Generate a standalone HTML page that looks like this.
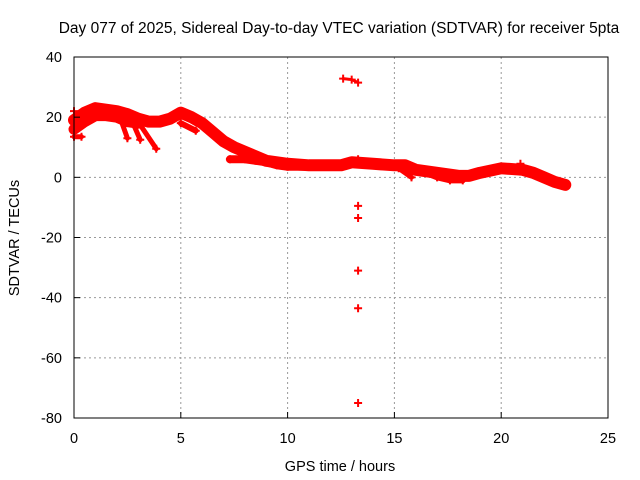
<!DOCTYPE html>
<html><head><meta charset="utf-8"><style>
body{margin:0;background:#fff}
svg{display:block;font-family:"Liberation Sans",sans-serif}
</style></head><body>
<svg id="c" width="640" height="480">
<text x="339" y="33" font-size="15.5" text-anchor="middle">Day 077 of 2025, Sidereal Day-to-day VTEC variation (SDTVAR) for receiver 5pta</text>
<text x="340" y="471" font-size="14.5" text-anchor="middle">GPS time / hours</text>
<text transform="translate(19,238) rotate(-90)" font-size="14.5" text-anchor="middle">SDTVAR / TECUs</text>
<g id="grid"></g><g id="marks"></g>
<rect x="74" y="57" width="534" height="361" fill="none" stroke="#000" stroke-width="1"/>
<g id="ticks"></g>
</svg>
<script>
const xTicks=[0,5,10,15,20,25];
const yTicks=[40,20,0,-20,-40,-60,-80];
// bands: arrays of [hour, TECU]
const mainBand=[[0,19],[0.5,21.5],[1,23],[1.5,22.5],[2,22],[2.5,21],[3,19.5],[3.5,18.5],[4,18.5],[4.5,19.5],[5,21.5],[5.5,20],[6,18],[6.5,15],[7,12],[7.5,10],[8,8.5],[8.5,7],[9,5.5],[10,4.5],[11,4],[12,4],[12.5,4],[13,5],[14,4.5],[15,4],[15.5,4],[16,2.5],[17,1.5],[18,0.5],[18.5,0.5],[19,1.5],[20,3],[21,2.5],[21.5,1.5],[22,0],[22.5,-1.5],[23,-2.5]];
const lowerEarly=[[0,16],[0.5,18.5],[1,20.5],[1.5,20.5],[2,20],[2.5,18.5],[3,18]];
const lowBand=[[7.3,6],[8,6],[8.5,5.5],[9,5],[9.5,4],[10,3.5],[11,3.5],[12,3.5]];
const branch1=[[2.15,20],[2.5,13]];
const branch2=[[2.7,19],[3.1,12.5]];
const branch3=[[3.0,18.5],[3.85,9.5]];
const branch4=[[5.0,18],[5.7,15.5]];
const branch5=[[0,13.5],[0.35,13.5]];
const branch6=[[15.2,3],[15.8,0]];
const branch7=[[16.3,2],[17,0],[17.6,-1],[18.2,-1]];
const topSeg=[[12.6,32.8],[13.0,32.5],[13.3,31.5]];
const outliers=[[13.3,6],[13.3,-9.5],[13.3,-13.5],[13.3,-31],[13.3,-43.5],[13.3,-75],[0.0,22],[0.1,17],[20.9,4.5]];
const bands=[[mainBand,12],[lowerEarly,11],[lowBand,8],[branch1,5],[branch2,5],[branch3,5],[branch4,6],[branch5,5],[branch6,5],[branch7,6],[topSeg,3]];
const X=h=>74+h*534/25, Y=v=>57+(40-v)*361/120;
const NS="http://www.w3.org/2000/svg";
const g=document.getElementById('grid'),m=document.getElementById('marks'),t=document.getElementById('ticks');
function mk(tag,at,p){const e=document.createElementNS(NS,tag);for(const k in at)e.setAttribute(k,at[k]);p.appendChild(e);return e;}
xTicks.forEach(v=>{
 if(v>0&&v<25){const l=mk('line',{x1:X(v),x2:X(v),y1:57,y2:418,stroke:'#999','stroke-dasharray':'2,3'},g);
 
 }
 const tk=mk('line',{x1:X(v),x2:X(v),y1:418,y2:412,stroke:'#000'},t);
 
 
 const tx=mk('text',{x:X(v),y:443,'font-size':14.5,'text-anchor':'middle'},t);tx.textContent=v;
 
 
});
yTicks.forEach(v=>{
 if(v<40&&v>-80){const l=mk('line',{x1:74,x2:608,y1:Y(v),y2:Y(v),stroke:'#999','stroke-dasharray':'2,3'},g);
 
 }
 const tk=mk('line',{x1:74,x2:80,y1:Y(v),y2:Y(v),stroke:'#000'},t);
 
 
 const tx=mk('text',{x:62,y:Y(v)+5,'font-size':14.5,'text-anchor':'end'},t);tx.textContent=v;
 
 
});
bands.forEach(([arr,w])=>{
 const pl=mk('polyline',{points:arr.map(p=>X(p[0])+','+Y(p[1])).join(' '),fill:'none',stroke:'#f00','stroke-width':w,'stroke-linejoin':'round','stroke-linecap':'round'},m);
 
 
 arr.forEach(p=>plus(p));
});
function plus(p){const x=X(p[0]),y=Y(p[1]);
 const e=mk('path',{d:`M${x-4},${y}h8M${x},${y-4}v8`,stroke:'#f00','stroke-width':2},m);
 
 }
outliers.forEach(plus);
</script>
</body></html>
